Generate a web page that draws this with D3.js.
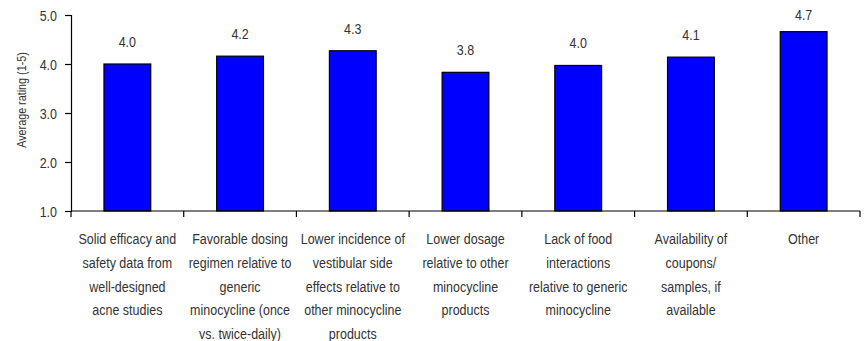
<!DOCTYPE html>
<html>
<head>
<meta charset="utf-8">
<script src="https://cdn.jsdelivr.net/npm/d3@7"></script>
<style>
  html, body { margin: 0; padding: 0; background: #fff; }
  svg { display: block; }
  text { font-family: "Liberation Sans", Arial, sans-serif; fill: #333; }
</style>
</head>
<body>
<svg id="chart" width="867" height="341"></svg>
<script>
// Reasons for prescribing, rated on a 1-5 scale
const categories = [
  ["Solid efficacy and", "safety data from", "well-designed", "acne studies"],
  ["Favorable dosing", "regimen relative to", "generic", "minocycline (once", "vs. twice-daily)"],
  ["Lower incidence of", "vestibular side", "effects relative to", "other minocycline", "products"],
  ["Lower dosage", "relative to other", "minocycline", "products"],
  ["Lack of food", "interactions", "relative to generic", "minocycline"],
  ["Availability of", "coupons/", "samples, if", "available"],
  ["Other"]
];
const ratings = [4.0, 4.16, 4.27, 3.83, 3.97, 4.14, 4.66];
const yTicks = [1, 2, 3, 4, 5];
const yTitle = "Average rating (1-5)";

const svg = d3.select("#chart");
const margin = { left: 71, right: 7, top: 15, bottom: 130 };
const W = 867, H = 341;
const STRETCH = 1.2;   // tall, condensed-looking lettering
const FS = "12.5px";

const ids = d3.range(categories.length);
const x = d3.scaleBand().domain(ids).range([margin.left, W - margin.right])
  .paddingInner(0.585).paddingOuter(0.2925);
const xOuter = d3.scaleBand().domain(ids).range([margin.left, W - margin.right]);
const y = d3.scaleLinear().domain([1, 5]).range([H - margin.bottom, margin.top]);

// bars
svg.append("g").selectAll("rect").data(ratings).join("rect")
  .attr("x", (d, i) => x(i))
  .attr("y", d => y(d))
  .attr("width", x.bandwidth())
  .attr("height", d => y(1) - y(d))
  .attr("fill", "#0000ff")
  .attr("stroke", "#000")
  .attr("stroke-width", 1.2);

// value labels, kept inside the top of the plot
svg.append("g").selectAll("text").data(ratings).join("text")
  .attr("transform", (d, i) => `translate(${x(i) + x.bandwidth() / 2},${Math.max(y(d) - 17, 20)}) scale(1,${STRETCH})`)
  .attr("text-anchor", "middle")
  .style("font-size", FS)
  .text(d => d.toFixed(1));

// y axis
const yAxis = svg.append("g")
  .attr("transform", `translate(${margin.left},0)`)
  .call(d3.axisLeft(y).tickValues(yTicks).tickFormat(d3.format(".1f")).tickSize(6));
yAxis.selectAll(".tick text")
  .attr("x", null).attr("dy", null)
  .attr("transform", `translate(-14,5.5) scale(1,${STRETCH})`)
  .style("font-size", FS).attr("fill", "#333");
yAxis.selectAll("line, path").attr("stroke", "#000").attr("stroke-width", 1.2);

// x axis: ticks at category boundaries
const bounds = ids.map(i => xOuter(i)).concat([W - margin.right]);
const xa = svg.append("g");
xa.append("line")
  .attr("x1", margin.left).attr("x2", W - margin.right)
  .attr("y1", y(1)).attr("y2", y(1))
  .attr("stroke", "#000").attr("stroke-width", 1.2);
xa.selectAll("line.tick").data(bounds).join("line")
  .attr("class", "tick")
  .attr("x1", d => d).attr("x2", d => d)
  .attr("y1", y(1)).attr("y2", y(1) + 6)
  .attr("stroke", "#000").attr("stroke-width", 1.2);

// category labels, one line per tspan
const lab = svg.append("g").selectAll("text").data(categories).join("text")
  .attr("transform", (d, i) => `translate(${xOuter(i) + xOuter.bandwidth() / 2},${y(1) + 33}) scale(1,${STRETCH})`)
  .attr("text-anchor", "middle")
  .style("font-size", FS);
lab.each(function (lines) {
  const t = d3.select(this);
  lines.forEach((ln, k) => {
    t.append("tspan").attr("x", 0).attr("y", k * 23.8 / STRETCH).text(ln);
  });
});

// y axis title
svg.append("text")
  .attr("transform", `translate(26,100) rotate(-90) scale(1,${STRETCH})`)
  .attr("text-anchor", "middle")
  .style("font-size", "10.8px")
  .text(yTitle);
</script>
</body>
</html>
